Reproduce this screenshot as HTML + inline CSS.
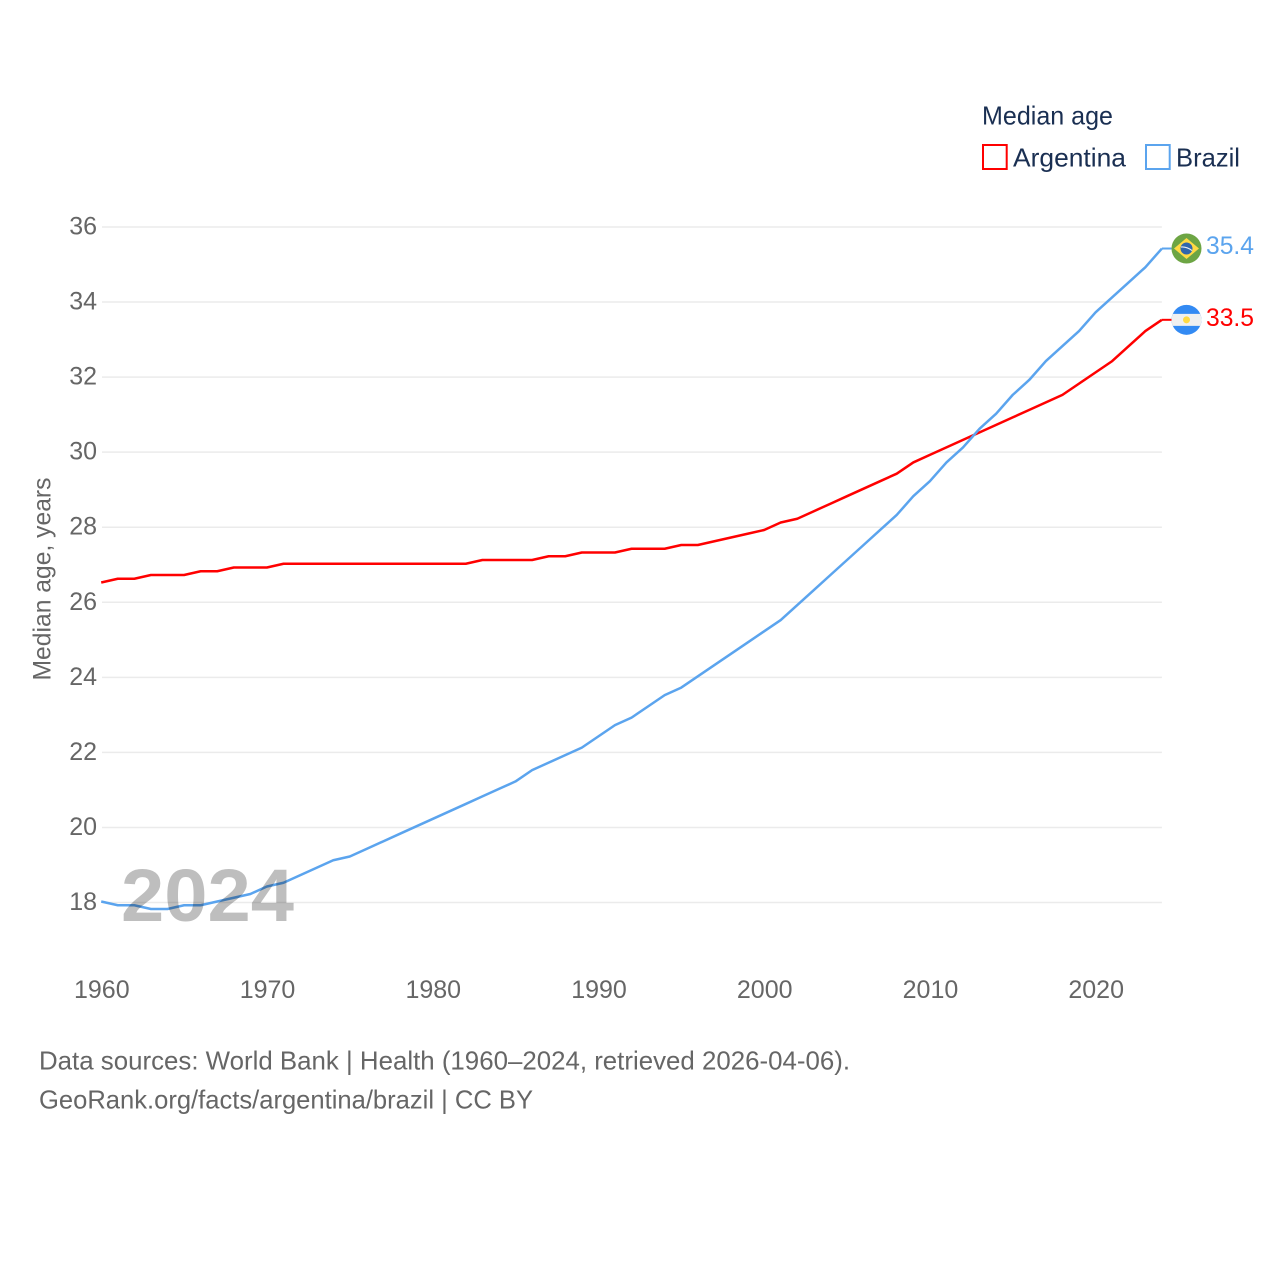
<!DOCTYPE html>
<html lang="en">
<head>
<meta charset="utf-8">
<title>Median age: Argentina and Brazil</title>
<style>
  html, body { margin: 0; padding: 0; background: #fff; }
  svg { display: block; font-family: "Liberation Sans", sans-serif; }
</style>
</head>
<body>
<svg id="chart" xmlns="http://www.w3.org/2000/svg" width="1280" height="1280" viewBox="0 0 1280 1280">
  <rect x="0" y="0" width="1280" height="1280" fill="#fff"/>
  <g id="grid"></g>
  <g id="y-ticks"></g>
  <g id="x-ticks"></g>
  <text transform="translate(50.5 579) rotate(-90)" text-anchor="middle" font-size="25" fill="#666" textLength="203" lengthAdjust="spacingAndGlyphs">Median age, years</text>
  <g id="series"></g>
  <text id="year-label" x="121" y="921" font-size="74" font-weight="bold" fill="#bebebe" textLength="173" lengthAdjust="spacingAndGlyphs" style="mix-blend-mode:multiply"></text>
  <g id="ends"></g>

  <g>
    <text x="982" y="124.5" font-size="26" fill="#1a2f52" textLength="131" lengthAdjust="spacingAndGlyphs">Median age</text>
    <g>
      <rect x="983" y="145" width="23.7" height="24" fill="#fff" stroke="#ff0000" stroke-width="2"/>
      <text x="1013" y="166.5" font-size="26" fill="#1a2f52" textLength="113" lengthAdjust="spacingAndGlyphs">Argentina</text>
    </g>
    <g>
      <rect x="1146" y="145" width="23.7" height="24" fill="#fff" stroke="#5ba4ee" stroke-width="2"/>
      <text x="1176" y="166.5" font-size="26" fill="#1a2f52" textLength="64" lengthAdjust="spacingAndGlyphs">Brazil</text>
    </g>
  </g>

  <text x="39" y="1069.5" font-size="26" fill="#666" textLength="811" lengthAdjust="spacingAndGlyphs">Data sources: World Bank | Health (1960–2024, retrieved 2026-04-06).</text>
  <text x="39" y="1108.5" font-size="26" fill="#666" textLength="494" lengthAdjust="spacingAndGlyphs">GeoRank.org/facts/argentina/brazil | CC BY</text>
</svg>
<script>
const years = [1960,1961,1962,1963,1964,1965,1966,1967,1968,1969,1970,1971,1972,1973,1974,1975,1976,1977,1978,1979,1980,1981,1982,1983,1984,1985,1986,1987,1988,1989,1990,1991,1992,1993,1994,1995,1996,1997,1998,1999,2000,2001,2002,2003,2004,2005,2006,2007,2008,2009,2010,2011,2012,2013,2014,2015,2016,2017,2018,2019,2020,2021,2022,2023,2024];
const argentinaValues = [26.5,26.6,26.6,26.7,26.7,26.7,26.8,26.8,26.9,26.9,26.9,27.0,27.0,27.0,27.0,27.0,27.0,27.0,27.0,27.0,27.0,27.0,27.0,27.1,27.1,27.1,27.1,27.2,27.2,27.3,27.3,27.3,27.4,27.4,27.4,27.5,27.5,27.6,27.7,27.8,27.9,28.1,28.2,28.4,28.6,28.8,29.0,29.2,29.4,29.7,29.9,30.1,30.3,30.5,30.7,30.9,31.1,31.3,31.5,31.8,32.1,32.4,32.8,33.2,33.5];
const brazilValues = [18.0,17.9,17.9,17.8,17.8,17.9,17.9,18.0,18.1,18.2,18.4,18.5,18.7,18.9,19.1,19.2,19.4,19.6,19.8,20.0,20.2,20.4,20.6,20.8,21.0,21.2,21.5,21.7,21.9,22.1,22.4,22.7,22.9,23.2,23.5,23.7,24.0,24.3,24.6,24.9,25.2,25.5,25.9,26.3,26.7,27.1,27.5,27.9,28.3,28.8,29.2,29.7,30.1,30.6,31.0,31.5,31.9,32.4,32.8,33.2,33.7,34.1,34.5,34.9,35.4];
const yTickValues = [18,20,22,24,26,28,30,32,34,36];
const xTickValues = [1960,1970,1980,1990,2000,2010,2020];

const NS = 'http://www.w3.org/2000/svg';
const x = yr => 101.2 + (yr - 1960) * (1095.6 - 101.2) / 60;
const y = v => 901.5 - (v - 18) * (902.5 - 227) / 18;
const right = x(years[years.length - 1]);

function make(tag, attrs, parent, text) {
  const el = document.createElementNS(NS, tag);
  for (const k in attrs) el.setAttribute(k, attrs[k]);
  if (text !== undefined) el.textContent = text;
  parent.appendChild(el);
  return el;
}

const gridG = document.getElementById('grid');
const yTickG = document.getElementById('y-ticks');
yTickValues.forEach(v => {
  const line = make('line', {x1: x(1960) + 0.8, x2: right, y1: y(v) + 1, y2: y(v) + 1, stroke: '#ebebeb', 'stroke-width': 1.5}, gridG);
  
  
  const label = make('text', {x: 97, y: y(v) + 8.5, 'text-anchor': 'end', 'font-size': 25, fill: '#666'}, yTickG, String(v));
  
  
});

const xTickG = document.getElementById('x-ticks');
xTickValues.forEach(yr => {
  const label = make('text', {x: x(yr) + 0.6, y: 998, 'text-anchor': 'middle', 'font-size': 25, fill: '#666'}, xTickG, String(yr));
  
  
});

const seriesG = document.getElementById('series');
function pathFor(values) {
  return values.map((v, i) => (i ? 'L' : 'M') + x(years[i]).toFixed(2) + ' ' + y(v).toFixed(2)).join(' ');
}
const argLine = make('path', {d: pathFor(argentinaValues), fill: 'none', stroke: '#ff0000', 'stroke-width': 2.5, 'stroke-linejoin': 'round'}, seriesG);


const braLine = make('path', {d: pathFor(brazilValues), fill: 'none', stroke: '#5ba4ee', 'stroke-width': 2.5, 'stroke-linejoin': 'round'}, seriesG);



document.getElementById('year-label').textContent = String(years[years.length - 1]);

const endsG = document.getElementById('ends');
const lastArg = argentinaValues[argentinaValues.length - 1];
const lastBra = brazilValues[brazilValues.length - 1];
const cx = 1186.5;

const braConn = make('line', {x1: right, x2: cx - 15, y1: y(lastBra), y2: y(lastBra), stroke: '#5ba4ee', 'stroke-width': 2}, endsG);


const argConn = make('line', {x1: right, x2: cx - 15, y1: y(lastArg), y2: y(lastArg), stroke: '#ff0000', 'stroke-width': 2}, endsG);



const braFlag = make('g', {transform: 'translate(' + cx + ' ' + y(lastBra) + ')'}, endsG);


make('circle', {cx: 0, cy: 0, r: 15, fill: '#6da544'}, braFlag);
make('polygon', {points: '0,-10.5 12.5,0 0,10.5 -12.5,0', fill: '#ffda44'}, braFlag);
make('circle', {cx: 0, cy: 0, r: 6, fill: '#2f66ad'}, braFlag);
make('path', {d: 'M-5.5 -1.5 Q0 -2 5.5 2', fill: 'none', stroke: '#e8eef5', 'stroke-width': 1.1}, braFlag);

const argFlag = make('g', {transform: 'translate(' + cx + ' ' + y(lastArg) + ')'}, endsG);


make('circle', {cx: 0, cy: 0, r: 15, fill: '#338af3'}, argFlag);
make('path', {d: 'M-13.7 -6 H13.7 A15 15 0 0 1 13.7 6 H-13.7 A15 15 0 0 1 -13.7 -6 Z', fill: '#f0f0f0'}, argFlag);
make('circle', {cx: 0, cy: 0, r: 3.5, fill: '#ffda44'}, argFlag);

const braValue = make('text', {x: 1206, y: y(lastBra) + 5.5, 'font-size': 25, fill: '#5ba4ee', textLength: 48, lengthAdjust: 'spacingAndGlyphs'}, endsG, lastBra.toFixed(1));


const argValue = make('text', {x: 1206, y: y(lastArg) + 6, 'font-size': 25, fill: '#ff0000', textLength: 48, lengthAdjust: 'spacingAndGlyphs'}, endsG, lastArg.toFixed(1));


</script>
</body>
</html>
